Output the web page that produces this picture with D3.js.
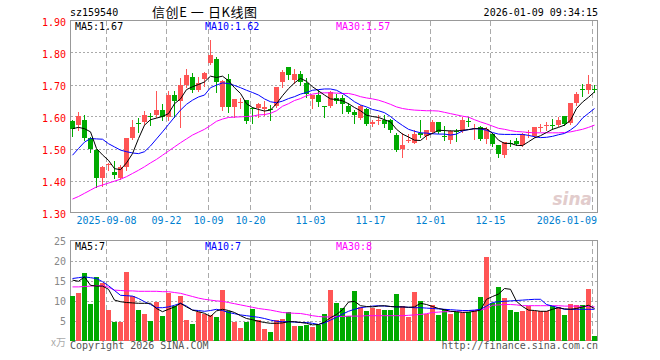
<!DOCTYPE html>
<html><head><meta charset="utf-8">
<script src="https://cdn.jsdelivr.net/npm/d3@7/dist/d3.min.js"></script>
<style>body{margin:0;background:#fff}svg{display:block}</style>
</head><body><svg id="c" width="660" height="360"></svg>
<script>
const dates = ["2025-08-29","2025-09-01","2025-09-02","2025-09-03","2025-09-04","2025-09-05","2025-09-08","2025-09-09","2025-09-10","2025-09-11","2025-09-12","2025-09-15","2025-09-16","2025-09-17","2025-09-18","2025-09-19","2025-09-22","2025-09-23","2025-09-24","2025-09-25","2025-09-26","2025-09-29","2025-09-30","2025-10-09","2025-10-10","2025-10-13","2025-10-14","2025-10-15","2025-10-16","2025-10-17","2025-10-20","2025-10-21","2025-10-22","2025-10-23","2025-10-24","2025-10-27","2025-10-28","2025-10-29","2025-10-30","2025-10-31","2025-11-03","2025-11-04","2025-11-05","2025-11-06","2025-11-07","2025-11-10","2025-11-11","2025-11-12","2025-11-13","2025-11-14","2025-11-17","2025-11-18","2025-11-19","2025-11-20","2025-11-21","2025-11-24","2025-11-25","2025-11-26","2025-11-27","2025-11-28","2025-12-01","2025-12-02","2025-12-03","2025-12-04","2025-12-05","2025-12-08","2025-12-09","2025-12-10","2025-12-11","2025-12-12","2025-12-15","2025-12-16","2025-12-17","2025-12-18","2025-12-19","2025-12-22","2025-12-23","2025-12-24","2025-12-25","2025-12-26","2025-12-29","2025-12-30","2025-12-31","2026-01-05","2026-01-06","2026-01-07","2026-01-08","2026-01-09"];
const open  = [1.586,1.573,1.588,1.533,1.495,1.409,1.450,1.426,1.409,1.443,1.532,1.580,1.583,1.602,1.604,1.620,1.597,1.667,1.649,1.700,1.723,1.682,1.716,1.768,1.781,1.630,1.716,1.630,1.645,1.651,1.625,1.625,1.622,1.622,1.633,1.708,1.755,1.713,1.732,1.705,1.654,1.667,1.633,1.633,1.658,1.659,1.632,1.615,1.596,1.622,1.576,1.586,1.590,1.590,1.542,1.500,1.525,1.518,1.547,1.538,1.552,1.583,1.538,1.528,1.556,1.555,1.585,1.561,1.566,1.531,1.545,1.510,1.479,1.516,1.523,1.510,1.548,1.538,1.566,1.570,1.574,1.573,1.601,1.580,1.641,1.685,1.682,1.686];
const high  = [1.590,1.613,1.604,1.536,1.497,1.445,1.455,1.460,1.448,1.532,1.588,1.595,1.616,1.610,1.679,1.640,1.679,1.679,1.721,1.747,1.736,1.722,1.740,1.839,1.785,1.713,1.733,1.656,1.659,1.652,1.630,1.643,1.648,1.635,1.693,1.745,1.755,1.747,1.743,1.719,1.667,1.682,1.633,1.680,1.670,1.667,1.641,1.620,1.635,1.625,1.590,1.604,1.604,1.591,1.547,1.547,1.545,1.557,1.590,1.559,1.588,1.583,1.570,1.559,1.562,1.599,1.599,1.578,1.570,1.566,1.549,1.510,1.521,1.526,1.534,1.547,1.557,1.568,1.576,1.583,1.591,1.599,1.601,1.643,1.677,1.703,1.729,1.700];
const low   = [1.539,1.559,1.526,1.490,1.380,1.383,1.432,1.409,1.406,1.432,1.530,1.552,1.578,1.572,1.597,1.588,1.590,1.599,1.568,1.693,1.677,1.680,1.695,1.765,1.677,1.620,1.615,1.597,1.627,1.580,1.580,1.597,1.604,1.588,1.630,1.693,1.716,1.705,1.698,1.661,1.625,1.633,1.597,1.630,1.641,1.611,1.611,1.580,1.591,1.573,1.570,1.576,1.566,1.552,1.493,1.474,1.521,1.516,1.536,1.531,1.549,1.549,1.528,1.516,1.524,1.552,1.570,1.531,1.528,1.516,1.507,1.472,1.474,1.507,1.510,1.507,1.536,1.536,1.555,1.557,1.562,1.570,1.573,1.578,1.635,1.663,1.672,1.677];
const close = [1.562,1.601,1.533,1.498,1.409,1.443,1.452,1.418,1.443,1.532,1.568,1.578,1.604,1.600,1.620,1.597,1.667,1.649,1.700,1.731,1.682,1.705,1.736,1.792,1.708,1.710,1.630,1.656,1.646,1.586,1.622,1.638,1.630,1.620,1.693,1.740,1.729,1.734,1.708,1.669,1.666,1.646,1.632,1.675,1.649,1.640,1.615,1.604,1.632,1.578,1.583,1.588,1.578,1.559,1.495,1.510,1.526,1.545,1.542,1.557,1.583,1.552,1.536,1.555,1.554,1.588,1.583,1.564,1.531,1.562,1.513,1.482,1.521,1.514,1.514,1.545,1.550,1.566,1.568,1.573,1.572,1.588,1.576,1.643,1.670,1.683,1.703,1.684];
const ma5   = [1.562,1.566,1.562,1.552,1.500,1.480,1.463,1.437,1.434,1.455,1.484,1.531,1.573,1.590,1.595,1.600,1.609,1.640,1.655,1.684,1.693,1.700,1.708,1.726,1.722,1.726,1.712,1.690,1.672,1.640,1.628,1.622,1.617,1.620,1.640,1.665,1.687,1.705,1.719,1.710,1.693,1.680,1.667,1.655,1.653,1.649,1.640,1.628,1.618,1.604,1.600,1.597,1.590,1.583,1.560,1.545,1.536,1.526,1.525,1.540,1.547,1.557,1.556,1.555,1.555,1.557,1.559,1.562,1.562,1.562,1.547,1.526,1.516,1.516,1.510,1.509,1.521,1.533,1.540,1.550,1.560,1.566,1.573,1.588,1.625,1.645,1.660,1.677];
const ma10  = [1.479,1.500,1.520,1.531,1.530,1.529,1.515,1.505,1.495,1.490,1.486,1.484,1.490,1.508,1.530,1.552,1.575,1.598,1.620,1.638,1.651,1.661,1.667,1.690,1.698,1.705,1.703,1.697,1.690,1.682,1.675,1.667,1.655,1.646,1.643,1.648,1.656,1.662,1.670,1.675,1.682,1.684,1.686,1.686,1.682,1.672,1.660,1.646,1.636,1.630,1.622,1.618,1.612,1.600,1.585,1.572,1.560,1.554,1.549,1.548,1.546,1.545,1.545,1.542,1.545,1.555,1.559,1.562,1.561,1.557,1.550,1.545,1.544,1.544,1.544,1.544,1.541,1.537,1.534,1.535,1.538,1.543,1.547,1.558,1.572,1.595,1.610,1.625];
const ma30  = [1.342,1.350,1.360,1.370,1.380,1.386,1.392,1.398,1.404,1.412,1.422,1.432,1.443,1.455,1.466,1.479,1.492,1.505,1.518,1.530,1.542,1.551,1.560,1.572,1.585,1.592,1.597,1.598,1.599,1.600,1.601,1.605,1.606,1.610,1.618,1.632,1.640,1.650,1.656,1.665,1.670,1.673,1.674,1.674,1.673,1.672,1.672,1.668,1.662,1.658,1.655,1.651,1.645,1.638,1.630,1.625,1.622,1.620,1.619,1.618,1.618,1.617,1.613,1.609,1.605,1.601,1.598,1.590,1.583,1.577,1.570,1.563,1.560,1.556,1.553,1.552,1.550,1.549,1.549,1.549,1.549,1.549,1.550,1.552,1.556,1.560,1.566,1.573];
const volume = [11.1,11.9,16.8,9.1,15.8,14.5,7.6,4.6,4.6,17.1,11.1,7.6,6.6,4.8,9.6,6.1,11.8,8.6,11.1,5.1,4.1,7.1,6.6,6.3,5.8,12.6,7.3,4.6,3.1,4.6,7.8,5.1,2.8,2.1,5.1,5.3,7.1,3.6,3.6,3.8,3.3,3.8,6.6,12.6,9.3,8.1,6.1,12.3,8.3,7.3,8.1,7.8,7.6,7.6,11.6,8.6,5.9,12.1,9.8,6.6,8.8,6.3,7.8,6.6,7.1,6.8,7.1,7.3,10.8,20.8,9.3,13.3,10.6,7.6,7.1,7.3,8.6,7.3,7.3,7.3,8.6,8.3,6.3,9.1,8.8,8.8,12.8,1.1];
const vma5  = [15.1,14.8,15.9,13.8,13.6,13.6,12.8,10.1,9.7,9.5,9.4,9.3,9.3,9.3,8.0,7.2,7.8,8.4,9.3,8.4,7.6,7.2,6.8,6.0,7.4,7.8,7.5,7.0,6.2,5.5,5.2,4.8,4.5,4.3,4.3,4.4,4.7,4.7,4.5,4.3,3.9,4.0,4.6,5.7,6.5,7.7,9.6,9.8,8.7,8.5,8.4,8.6,8.7,8.5,8.4,8.4,8.3,8.4,9.3,9.0,8.5,8.0,7.7,7.3,7.2,7.0,7.1,7.3,7.6,10.3,11.0,11.6,13.0,12.8,9.8,8.5,7.6,7.5,7.3,7.3,7.8,8.2,7.9,7.8,8.0,8.4,8.8,8.0];
const vma10 = [15.5,15.7,15.9,15.7,15.5,14.7,13.7,12.5,11.3,11.2,11.1,10.5,9.7,9.0,8.2,8.2,8.4,8.8,9.3,8.6,7.6,7.5,7.3,7.5,7.8,7.5,7.0,6.7,6.4,6.2,6.0,5.8,5.5,5.1,4.8,4.7,4.7,4.6,4.5,4.5,4.3,4.0,4.4,5.1,5.8,6.6,7.3,7.8,8.2,8.4,8.6,8.7,8.6,8.5,8.4,8.4,8.3,8.2,8.2,8.1,8.0,7.9,7.8,7.7,7.6,7.5,7.5,7.6,7.8,8.6,9.5,9.7,9.8,9.9,10.0,10.1,10.2,10.3,10.3,9.0,8.6,8.2,7.8,7.8,7.8,7.8,7.8,7.8];
const vma30 = [13.4,13.4,13.5,13.6,13.7,13.7,13.3,12.6,12.5,12.4,12.4,12.3,12.3,12.3,12.3,12.2,12.2,12.0,11.8,11.4,11.0,10.6,10.3,10.1,9.9,9.8,9.5,9.2,8.9,8.6,8.3,8.0,7.8,7.6,7.3,7.0,6.9,6.8,6.75,6.5,6.2,6.0,5.9,5.9,6.0,6.0,6.1,6.1,6.1,6.2,6.2,6.2,6.2,6.2,6.2,6.2,6.3,6.4,6.5,6.7,7.0,7.1,7.2,7.2,7.3,7.4,7.5,7.5,7.6,8.0,8.8,8.9,9.0,9.0,8.9,8.7,8.7,8.7,8.7,8.7,8.7,8.7,8.6,8.6,8.6,8.5,8.5,8.4];
const tickDates  = ["2025-09-08","2025-09-22","2025-10-09","2025-10-20","2025-11-03","2025-11-17","2025-12-01","2025-12-15","2026-01-09"];
const tickLabels = ["2025-09-08","09-22","10-09","10-20","11-03","11-17","12-01","12-15","2026-01-09"];
const priceTicks = [1.30,1.40,1.50,1.60,1.70,1.80,1.90];
const volTicks = [5,10,15,20,25];
const legendPrice = ["MA5:1.67","MA10:1.62","MA30:1.57"];
const legendVol = ["MA5:7","MA10:7","MA30:8"];

const RED = "#ff5555", GREEN = "#00aa00", GRID = "#aaaaaa", BORDER = "#999999";
const MONO = "'DejaVu Sans Mono', monospace";
const CJK = "'Noto Sans CJK SC', sans-serif";
const svg = d3.select("#c");
const L = 70.5, R = 597.5;
const x = d3.scaleBand().domain(dates).range([69.5, 597.5]).padding(0);
const cx = d => x(d) + 3;
const y = d3.scaleLinear().domain([1.30, 1.90]).range([212.5, 20.5]);
const yv = d3.scaleLinear().domain([0, 25]).range([340.5, 240.5]);
const rows = dates.map((d,i)=>({d, o:open[i], h:high[i], l:low[i], c:close[i], v:volume[i]}));

// header
svg.append("text").attr("x",70).attr("y",16).attr("font-family",MONO).attr("font-size",10).attr("fill","#000").text("sz159540");
svg.append("text").attr("x",152).attr("y",16.5).attr("font-family",CJK).attr("font-size",13)
  .attr("textLength",105).attr("lengthAdjust","spacing").attr("fill","#000").text("信创E 一 日K线图");
svg.append("text").attr("x",598).attr("y",16).attr("text-anchor","end").attr("font-family",MONO).attr("font-size",10).attr("fill","#000").text("2026-01-09 09:34:15");

function panel(yScale, ticks, top, bottom){
  const g = svg.append("g");
  g.selectAll("line.h").data(ticks.slice(1, -1)).join("line")
    .attr("x1",L).attr("x2",R).attr("y1",t=>Math.round(yScale(t))+0.5).attr("y2",t=>Math.round(yScale(t))+0.5)
    .attr("stroke",GRID).attr("stroke-dasharray","2,2").attr("shape-rendering","crispEdges");
  g.selectAll("line.v").data(tickDates).join("line")
    .attr("x1",d=>x(d)+1).attr("x2",d=>x(d)+1).attr("y1",top).attr("y2",bottom)
    .attr("stroke",GRID).attr("stroke-dasharray","5,3").attr("shape-rendering","crispEdges");
  g.append("rect").attr("x",L).attr("y",top).attr("width",R-L).attr("height",bottom-top)
    .attr("fill","none").attr("stroke",BORDER).attr("shape-rendering","crispEdges");
}
panel(y, priceTicks, 20.5, 212.5);
panel(yv, [0].concat(volTicks), 240.5, 340.5);

// price axis labels
svg.append("g").selectAll("text").data(priceTicks).join("text")
  .attr("x",66).attr("y",t=>y(t)+5).attr("text-anchor","end").attr("font-family",MONO).attr("font-size",10)
  .attr("fill","#ff0000").text(t=>t.toFixed(2));
// vol axis labels
svg.append("g").selectAll("text").data(volTicks).join("text")
  .attr("x",66).attr("y",t=>yv(t)+4.5).attr("text-anchor","end").attr("font-family",MONO).attr("font-size",10)
  .attr("fill","#888").text(t=>t);
svg.append("text").attr("x",66).attr("y",yv(0)+5).attr("text-anchor","end").attr("font-family",CJK).attr("font-size",10).attr("fill","#aaa").text("x万");

// date labels
svg.append("g").selectAll("text").data(tickDates).join("text")
  .attr("x",(d,i)=> i===tickDates.length-1 ? 597 : x(d)+1)
  .attr("y",224).attr("text-anchor",(d,i)=> i===tickDates.length-1 ? "end" : "middle")
  .attr("font-family",MONO).attr("font-size",10).attr("fill","#0080d0").text((d,i)=>tickLabels[i]);

// watermark
svg.append("text").attr("x",592).attr("y",205).attr("text-anchor","end").attr("font-family","'DejaVu Sans', sans-serif")
  .attr("font-style","italic").attr("font-weight","bold").attr("font-size",17).attr("fill","#e2cccc").text("sina");

// candles
const cg = svg.append("g").attr("shape-rendering","crispEdges");
const col = r => r.c >= r.o ? RED : GREEN;
cg.selectAll("line").data(rows).join("line")
  .attr("x1",r=>cx(r.d)).attr("x2",r=>cx(r.d))
  .attr("y1",r=>Math.round(y(r.h))).attr("y2",r=>Math.round(y(r.l))+1)
  .attr("stroke",col);
cg.selectAll("rect").data(rows).join("rect")
  .attr("x",r=>x(r.d)+0.5).attr("width",5)
  .attr("y",r=>Math.round(y(Math.max(r.o,r.c))))
  .attr("height",r=>Math.max(1, Math.round(y(Math.min(r.o,r.c))) - Math.round(y(Math.max(r.o,r.c)))))
  .attr("fill",col);

// volume bars
svg.append("g").attr("shape-rendering","crispEdges").selectAll("rect").data(rows).join("rect")
  .attr("x",r=>x(r.d)+0.5).attr("width",5)
  .attr("y",r=>yv(r.v)).attr("height",r=>yv(0)-yv(r.v)).attr("fill",col);

// MA lines
function maLine(vals, scale, color){
  const line = d3.line().x((v,i)=>cx(dates[i])).y(v=>scale(v));
  svg.append("path").attr("d",line(vals)).attr("fill","none").attr("stroke",color).attr("stroke-width",1);
}
maLine(ma30, y, "#ff00ff"); maLine(ma10, y, "#0000ff"); maLine(ma5, y, "#000000");
maLine(vma30, yv, "#ff00ff"); maLine(vma10, yv, "#0000ff"); maLine(vma5, yv, "#000000");

// legends
const lcol = ["#000000","#0000ff","#ff00ff"], lx = [75, 205, 336];
legendPrice.forEach((t,i)=> svg.append("text").attr("x",lx[i]).attr("y",30).attr("font-family",MONO).attr("font-size",10).attr("fill",lcol[i]).text(t));
legendVol.forEach((t,i)=> svg.append("text").attr("x",lx[i]).attr("y",250).attr("font-family",MONO).attr("font-size",10).attr("fill",lcol[i]).text(t));

// footer
svg.append("text").attr("x",70).attr("y",349).attr("font-family",MONO).attr("font-size",10).attr("fill","#555").text("Copyright 2026 SINA.COM");
svg.append("text").attr("x",598).attr("y",349).attr("text-anchor","end").attr("font-family",MONO).attr("font-size",10).attr("fill","#555").text("http://finance.sina.com.cn");
</script></body></html>
